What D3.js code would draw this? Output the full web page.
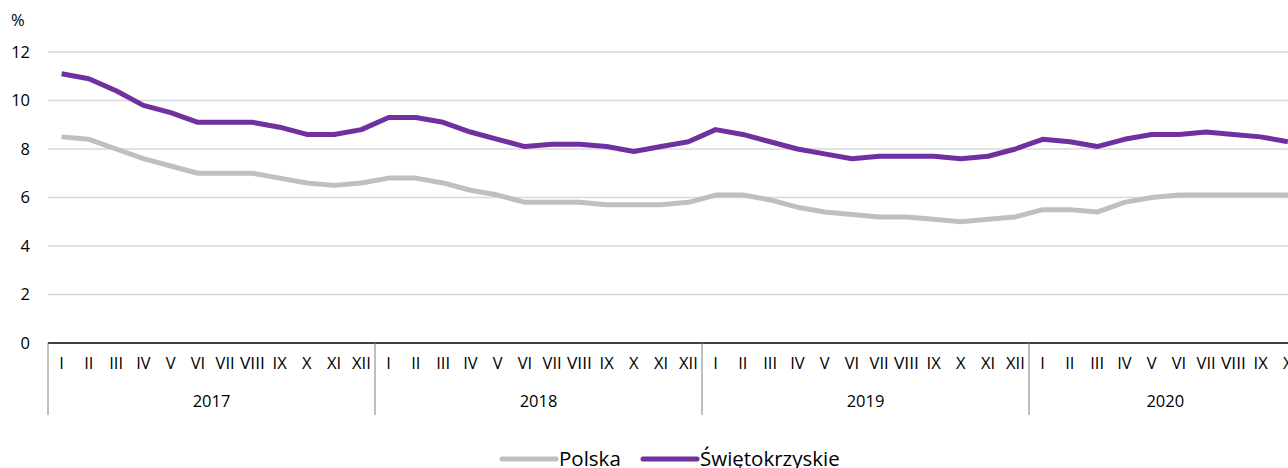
<!DOCTYPE html>
<html><head><meta charset="utf-8">
<script src="https://cdn.jsdelivr.net/npm/d3@7"></script>
<style>
html,body{margin:0;padding:0;background:#fff;overflow:hidden;}
svg{display:block;font-family:"Open Sans",sans-serif;}
</style></head>
<body>
<script>
const years = ["2017","2018","2019","2020"];
const months = ["I","II","III","IV","V","VI","VII","VIII","IX","X","XI","XII"];
const yTicks = [0,2,4,6,8,10,12];
const polska = [8.5,8.4,8.0,7.6,7.3,7.0,7.0,7.0,6.8,6.6,6.5,6.6,
                6.8,6.8,6.6,6.3,6.1,5.8,5.8,5.8,5.7,5.7,5.7,5.8,
                6.1,6.1,5.9,5.6,5.4,5.3,5.2,5.2,5.1,5.0,5.1,5.2,
                5.5,5.5,5.4,5.8,6.0,6.1,6.1,6.1,6.1,6.1];
const swietokrzyskie = [11.1,10.9,10.4,9.8,9.5,9.1,9.1,9.1,8.9,8.6,8.6,8.8,
                9.3,9.3,9.1,8.7,8.4,8.1,8.2,8.2,8.1,7.9,8.1,8.3,
                8.8,8.6,8.3,8.0,7.8,7.6,7.7,7.7,7.7,7.6,7.7,8.0,
                8.4,8.3,8.1,8.4,8.6,8.6,8.7,8.6,8.5,8.3];
const seriesNames = ["Polska","Świętokrzyskie"];
const colors = ["#BFBFBF","#7030A0"];

(function(){
const W = 1288, H = 468;
const step = 27.25;
const mLeft = 48, mTop = 52, mBottom = 343;

const allCats = [];
years.forEach(y => months.forEach(m => allCats.push(y + "-" + m)));
const cats = allCats.slice(0, polska.length);
const mRight = mLeft + cats.length * step;

const svg = d3.select("body").append("svg").attr("width", W).attr("height", H);
const x = d3.scaleBand().domain(cats).range([mLeft, mRight]).padding(0);
const y = d3.scaleLinear().domain([0, 12]).range([mBottom, mTop]);

// year extents
const yearInfo = years.map(yy => {
  const c = cats.filter(d => d.startsWith(yy));
  const x0 = x(c[0]), x1 = x(c[c.length - 1]) + x.bandwidth();
  return {year: yy, x0, x1};
});

svg.append("g").selectAll("line").data(yTicks.filter(d => d > 0)).join("line")
  .attr("x1", mLeft).attr("x2", mRight)
  .attr("y1", d => y(d)).attr("y2", d => y(d))
  .attr("stroke", "#D9D9D9").attr("stroke-width", 1.5);

svg.append("g").selectAll("text").data(yTicks).join("text")
  .attr("x", 30).attr("y", d => y(d)).attr("dy", "0.35em")
  .attr("text-anchor", "end").attr("font-size", 16.5).attr("fill", "#000")
  .text(d => d);
svg.append("text").attr("x", 11).attr("y", 26).attr("font-size", 16.5).text("%");

svg.append("line").attr("x1", mLeft).attr("x2", mRight).attr("y1", mBottom).attr("y2", mBottom)
  .attr("stroke", "#000").attr("stroke-width", 1.5);
const seps = [mLeft].concat(yearInfo.map(d => d.x1));
svg.append("g").selectAll("line").data(seps).join("line")
  .attr("x1", d => d).attr("x2", d => d).attr("y1", mBottom).attr("y2", 415)
  .attr("stroke", "#808080").attr("stroke-width", 1);

svg.append("g").selectAll("text").data(cats).join("text")
  .attr("x", d => x(d) + x.bandwidth() / 2).attr("y", 369)
  .attr("text-anchor", "middle").attr("font-size", 16.5).attr("fill", "#000")
  .attr("textLength", d => d.endsWith("-VIII") ? 25 : null)
  .attr("lengthAdjust", "spacingAndGlyphs")
  .text(d => d.split("-")[1]);
svg.append("g").selectAll("text").data(yearInfo).join("text")
  .attr("x", d => (d.x0 + d.x1) / 2).attr("y", 407)
  .attr("text-anchor", "middle").attr("font-size", 16.5).attr("fill", "#000")
  .text(d => d.year);

const line = d3.line().x((d, i) => x(cats[i]) + x.bandwidth() / 2).y(d => y(d));
[polska, swietokrzyskie].forEach((s, k) => {
  svg.append("path").datum(s).attr("d", line)
    .attr("fill", "none").attr("stroke", colors[k]).attr("stroke-width", 5)
    .attr("stroke-linejoin", "round");
});

const lg = svg.append("g");
const legendItems = [{x: 502, name: seriesNames[0], c: colors[0]}, {x: 643, name: seriesNames[1], c: colors[1]}];
legendItems.forEach(it => {
  lg.append("line").attr("x1", it.x).attr("x2", it.x + 54).attr("y1", 459).attr("y2", 459)
    .attr("stroke", it.c).attr("stroke-width", 5).attr("stroke-linecap", "round");
  lg.append("text").attr("x", it.x + 57).attr("y", 466).attr("font-size", 20.5).attr("fill", "#000")
    .text(it.name);
});
})();
</script>
</body></html>
